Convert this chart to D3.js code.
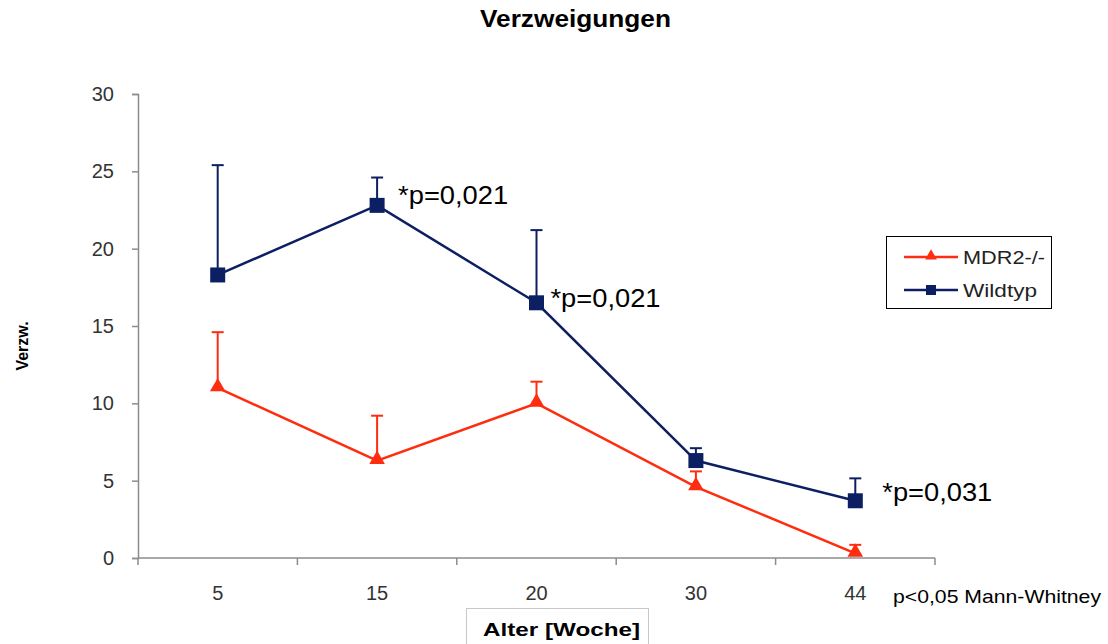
<!DOCTYPE html>
<html>
<head>
<meta charset="utf-8">
<script src="https://cdn.jsdelivr.net/npm/d3@7"></script>
<style>
  html, body { margin: 0; padding: 0; background: #fff; }
  svg { display: block; font-family: Arial, "Liberation Sans", sans-serif; }
</style>
</head>
<body>
<svg id="chart" width="1108" height="644"></svg>
<script>
// Age groups (weeks)
const categories = ["5", "15", "20", "30", "44"];
const yTicks = [0, 5, 10, 15, 20, 25, 30];

// Mean branch counts and upper error bar ends
const mdr2Values = [11.0, 6.3, 10.0, 4.6, 0.3];
const mdr2Upper  = [14.6, 9.2, 11.4, 5.6, 0.85];
const wildValues = [18.3, 22.8, 16.5, 6.3, 3.7];
const wildUpper  = [25.4, 24.6, 21.2, 7.1, 5.15];

// Significance notes attached to Wildtyp points
const pLabels = [
  { idx: 1, text: "*p=0,021", dx: 21, dy: -1 },
  { idx: 2, text: "*p=0,021", dx: 14, dy: 4 },
  { idx: 4, text: "*p=0,031", dx: 27, dy: 0 }
];

const RED = "#ff2d0f";
const NAVY = "#0c1f63";

const svg = d3.select("#chart");
const plotLeft = 138, plotRight = 935, plotTop = 94, plotBottom = 558;

const x = d3.scaleBand().domain(categories).range([plotLeft, plotRight]).paddingInner(0).paddingOuter(0);
const y = d3.scaleLinear().domain([0, 30]).range([plotBottom, plotTop]);
const cx = c => x(c) + x.bandwidth() / 2;

// helper for wide-set text
function wideText(sel, len) {
  return sel.attr("textLength", len).attr("lengthAdjust", "spacingAndGlyphs");
}

// Title
wideText(svg.append("text").attr("x", 480).attr("y", 27)
  .attr("font-size", 23).attr("font-weight", "bold").attr("fill", "#000")
  .text("Verzweigungen"), 191);

// Y axis
const yAxis = svg.append("g").attr("transform", `translate(${plotLeft},0)`)
  .call(d3.axisLeft(y).tickValues(yTicks).tickSize(6).tickPadding(18));
yAxis.select(".domain").attr("stroke", "#8c8c8c").attr("stroke-width", 1.5);
yAxis.selectAll(".tick line").attr("stroke", "#8c8c8c").attr("stroke-width", 1.5);
yAxis.selectAll(".tick text").attr("font-size", 20).attr("fill", "#333")
  .attr("font-family", "Arial, 'Liberation Sans', sans-serif");

// X axis with ticks between categories
const xAxis = svg.append("g").attr("transform", `translate(0,${plotBottom})`);
xAxis.append("line").attr("x1", plotLeft).attr("x2", plotRight).attr("y1", 0).attr("y2", 0)
  .attr("stroke", "#8c8c8c").attr("stroke-width", 1.5);
const edges = categories.map(c => x(c)).concat([plotRight]);
xAxis.selectAll("line.tk").data(edges).enter().append("line").attr("class", "tk")
  .attr("x1", d => d).attr("x2", d => d).attr("y1", 0).attr("y2", 7)
  .attr("stroke", "#8c8c8c").attr("stroke-width", 1.5);
xAxis.selectAll("text.cat").data(categories).enter().append("text").attr("class", "cat")
  .attr("x", d => cx(d)).attr("y", 42).attr("text-anchor", "middle")
  .attr("font-size", 20).attr("fill", "#333").text(d => d);

// Axis titles
svg.append("text").attr("transform", "translate(28,346) rotate(-90)")
  .attr("text-anchor", "middle").attr("font-size", 16).attr("font-weight", "bold")
  .text("Verzw.");
svg.append("rect").attr("x", 466.5).attr("y", 608.5).attr("width", 182).attr("height", 40)
  .attr("fill", "#fff").attr("stroke", "#c8c8c8");
wideText(svg.append("text").attr("x", 483).attr("y", 636)
  .attr("font-size", 18.5).attr("font-weight", "bold").text("Alter [Woche]"), 157);

wideText(svg.append("text").attr("x", 893).attr("y", 603).attr("font-size", 18.5).attr("fill", "#000")
  .text("p<0,05 Mann-Whitney"), 208);

const line = d3.line().x((d, i) => cx(categories[i])).y(d => y(d));

function drawSeries(values, upper, color, shape) {
  const g = svg.append("g");
  // upward error bars
  values.forEach((v, i) => {
    const px = cx(categories[i]);
    g.append("line").attr("x1", px).attr("x2", px).attr("y1", y(v)).attr("y2", y(upper[i]))
      .attr("stroke", color).attr("stroke-width", 2);
    g.append("line").attr("x1", px - 6).attr("x2", px + 6).attr("y1", y(upper[i])).attr("y2", y(upper[i]))
      .attr("stroke", color).attr("stroke-width", 2);
  });
  g.append("path").datum(values).attr("d", line).attr("fill", "none")
    .attr("stroke", color).attr("stroke-width", 2.5);
  const sym = d3.symbol().type(shape).size(shape === d3.symbolSquare ? 225 : 105);
  g.selectAll("path.m").data(values).enter().append("path").attr("class", "m")
    .attr("d", sym)
    .attr("transform", (d, i) => `translate(${cx(categories[i])},${y(d) - (shape === d3.symbolTriangle ? 1 : 0)})`)
    .attr("fill", color);
}

drawSeries(mdr2Values, mdr2Upper, RED, d3.symbolTriangle);
drawSeries(wildValues, wildUpper, NAVY, d3.symbolSquare);

// p-value annotations
svg.selectAll("text.p").data(pLabels).enter().append("text").attr("class", "p")
  .attr("x", d => cx(categories[d.idx]) + d.dx)
  .attr("y", d => y(wildValues[d.idx]) + d.dy)
  .attr("font-size", 26).attr("fill", "#000")
  .attr("textLength", 110).attr("lengthAdjust", "spacingAndGlyphs")
  .text(d => d.text);

// Legend
const lg = svg.append("g").attr("transform", "translate(886,236)");
lg.append("rect").attr("x", 0.5).attr("y", 0.5).attr("width", 165).attr("height", 72)
  .attr("fill", "#fff").attr("stroke", "#000").attr("stroke-width", 1);
const legendItems = [
  { name: "MDR2-/-", color: RED, shape: d3.symbolTriangle, yy: 21, len: 82 },
  { name: "Wildtyp", color: NAVY, shape: d3.symbolSquare, yy: 54, len: 74 }
];
legendItems.forEach(it => {
  lg.append("line").attr("x1", 18).attr("x2", 72).attr("y1", it.yy).attr("y2", it.yy)
    .attr("stroke", it.color).attr("stroke-width", 2.5);
  lg.append("path").attr("d", d3.symbol().type(it.shape).size(it.shape === d3.symbolSquare ? 100 : 60)())
    .attr("transform", `translate(45,${it.yy - (it.shape === d3.symbolTriangle ? 1 : 0)})`)
    .attr("fill", it.color);
  wideText(lg.append("text").attr("x", 77).attr("y", it.yy + 7).attr("font-size", 18.5).attr("fill", "#222")
    .text(it.name), it.len);
});
</script>
</body>
</html>
